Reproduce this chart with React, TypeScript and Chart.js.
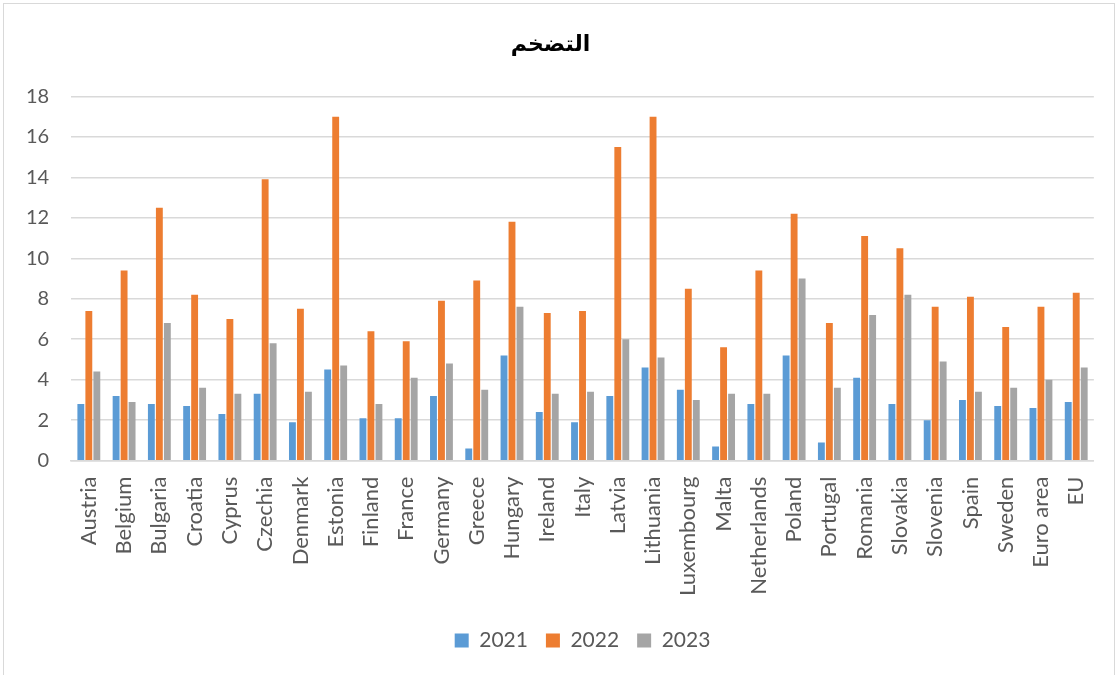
import React, { useEffect, useRef } from "react";
import { Chart, registerables } from "chart.js";

Chart.register(...registerables);

const chartTitle = "التضخم";
const categories = [
  "Austria", "Belgium", "Bulgaria", "Croatia", "Cyprus", "Czechia", "Denmark", "Estonia", "Finland", "France",
  "Germany", "Greece", "Hungary", "Ireland", "Italy", "Latvia", "Lithuania", "Luxembourg", "Malta", "Netherlands",
  "Poland", "Portugal", "Romania", "Slovakia", "Slovenia", "Spain", "Sweden", "Euro area", "EU",
];
const values2021 = [2.8, 3.2, 2.8, 2.7, 2.3, 3.3, 1.9, 4.5, 2.1, 2.1, 3.2, 0.6, 5.2, 2.4, 1.9, 3.2, 4.6, 3.5, 0.7, 2.8, 5.2, 0.9, 4.1, 2.8, 2.0, 3.0, 2.7, 2.6, 2.9];
const values2022 = [7.4, 9.4, 12.5, 8.2, 7.0, 13.9, 7.5, 17.0, 6.4, 5.9, 7.9, 8.9, 11.8, 7.3, 7.4, 15.5, 17.0, 8.5, 5.6, 9.4, 12.2, 6.8, 11.1, 10.5, 7.6, 8.1, 6.6, 7.6, 8.3];
const values2023 = [4.4, 2.9, 6.8, 3.6, 3.3, 5.8, 3.4, 4.7, 2.8, 4.1, 4.8, 3.5, 7.6, 3.3, 3.4, 6.0, 5.1, 3.0, 3.3, 3.3, 9.0, 3.6, 7.2, 8.2, 4.9, 3.4, 3.6, 4.0, 4.6];
const seriesLabels = ["2021", "2022", "2023"];
const yTicks = [0, 2, 4, 6, 8, 10, 12, 14, 16, 18];

export default function App() {
  const ref = useRef<HTMLCanvasElement | null>(null);
  useEffect(() => {
    if (!ref.current) return;
    const font = "Lato, 'Liberation Sans', sans-serif";
    const chart = new Chart(ref.current, {
      type: "bar",
      data: {
        labels: categories,
        datasets: [
          { label: seriesLabels[0], data: values2021, backgroundColor: "#5b9bd5" },
          { label: seriesLabels[1], data: values2022, backgroundColor: "#ed7d31" },
          { label: seriesLabels[2], data: values2023, backgroundColor: "#a5a5a5" },
        ],
      },
      options: {
        animation: false,
        responsive: false,
        maintainAspectRatio: false,
        layout: { padding: { left: 4, right: 22, top: 28, bottom: 14 } },
        datasets: { bar: { categoryPercentage: 0.68, barPercentage: 0.86 } } as any,
        plugins: {
          title: {
            display: true,
            text: chartTitle,
            color: "#000000",
            font: { family: "'DejaVu Sans', sans-serif", size: 22, weight: "bold" },
            padding: { top: 4, bottom: 38 },
          },
          legend: {
            position: "bottom",
            fullSize: false,
            labels: {
              boxWidth: 14,
              boxHeight: 14,
              color: "#595959",
              font: { family: font, size: 21 },
              padding: 18,
            },
          },
          tooltip: { enabled: false },
        },
        scales: {
          x: {
            grid: { display: false, drawTicks: false },
            border: { display: true, color: "#d9d9d9", width: 1.5 },
            ticks: {
              color: "#595959",
              font: { family: font, size: 22 },
              minRotation: 90,
              maxRotation: 90,
              autoSkip: false,
              padding: 16,
            },
          },
          y: {
            min: 0,
            max: 18,
            afterBuildTicks: (axis: any) => {
              axis.ticks = yTicks.map((v) => ({ value: v }));
            },
            grid: { color: "#d9d9d9", lineWidth: 1.5, drawTicks: false },
            border: { display: false },
            ticks: {
              color: "#595959",
              font: { family: font, size: 20 },
              padding: 22,
            },
          },
        },
      },
    });
    return () => chart.destroy();
  }, []);
  return (
    <div
      style={{
        position: "fixed",
        left: 0,
        top: 0,
        width: 1119,
        height: 675,
        background: "#ffffff",
      }}
    >
      <canvas ref={ref} width={1119} height={675} style={{ display: "block" }} />
      <div
        style={{
          position: "absolute",
          left: 3,
          top: 3,
          width: 1110,
          height: 680,
          border: "1.5px solid #d9d9d9",
          pointerEvents: "none",
        }}
      />
    </div>
  );
}
